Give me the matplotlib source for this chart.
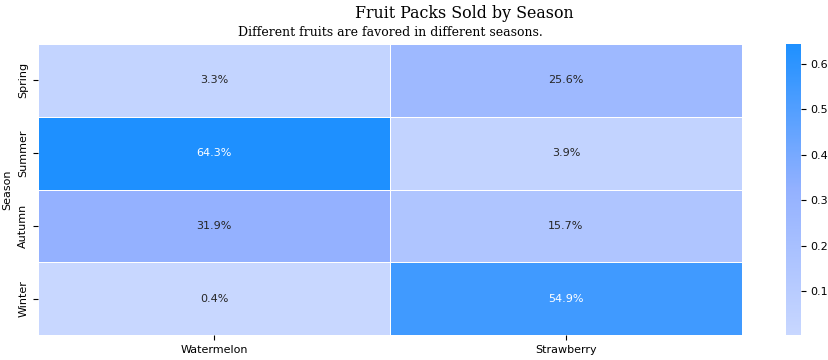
import numpy as np
import pandas as pd
import matplotlib.pyplot as plt
import seaborn as sns
from matplotlib.colors import LinearSegmentedColormap

seasons = ['Spring', 'Summer', 'Autumn', 'Winter']
fruits = ['Watermelon', 'Strawberry']
watermelon = [0.033, 0.643, 0.319, 0.004]
strawberry = [0.256, 0.039, 0.157, 0.549]

df = pd.DataFrame({'Watermelon': watermelon, 'Strawberry': strawberry}, index=seasons)
df.index.name = 'Season'

cmap = LinearSegmentedColormap.from_list('fruit', ['#c8d7ff', '#93b1ff', '#1e90ff'])

fig = plt.figure(figsize=(8.29, 3.6), dpi=100)
ax = fig.add_axes([38/829, 1 - 335/360, (742-38)/829, (335-44)/360])
cax = fig.add_axes([786/829, 1 - 335/360, 15/829, (335-44)/360])

sns.heatmap(df, ax=ax, cbar_ax=cax, cmap=cmap, annot=True, fmt='.1%',
            linewidths=0.6, linecolor='white', annot_kws={'fontsize': 8})
cax.tick_params(labelsize=8)
for s in cax.spines.values():
    s.set_visible(False)
ax.tick_params(labelsize=8)
ax.set_xlabel('')
ax.set_ylabel('Season', fontsize=8)

fig.text(464/829, 1 - 13/360, 'Fruit Packs Sold by Season', family='DejaVu Serif',
         fontsize=11.4, ha='center', va='center')
fig.text(390/829, 1 - 33/360, 'Different fruits are favored in different seasons.',
         family='DejaVu Serif', fontsize=9, ha='center', va='center')

fig.savefig('out.png', dpi=100)
